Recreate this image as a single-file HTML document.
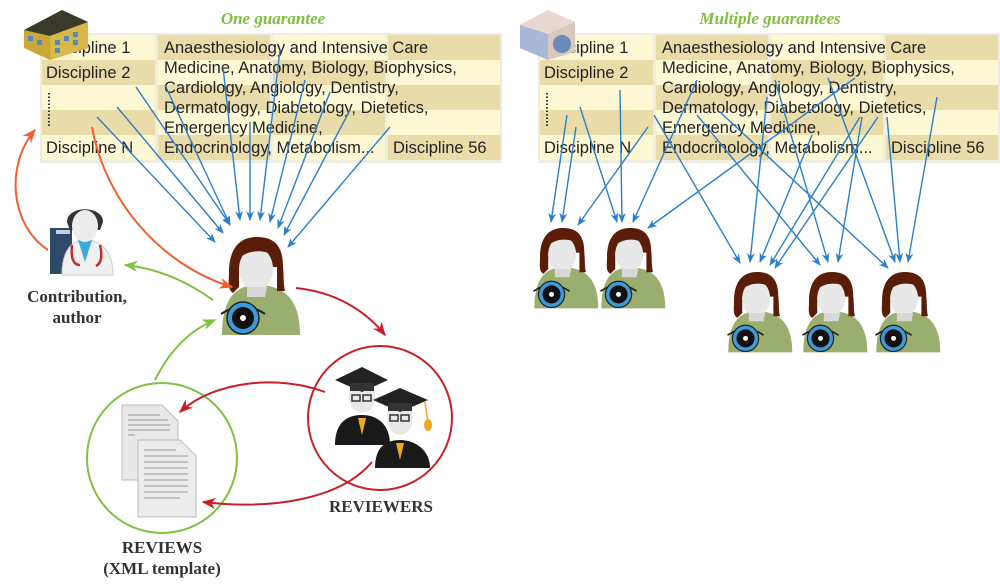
<!DOCTYPE html>
<html><head><meta charset="utf-8"><style>
body{margin:0;background:#fff;width:1000px;height:582px;overflow:hidden;font-family:"Liberation Sans",sans-serif}
</style></head><body>
<svg width="1000" height="582" viewBox="0 0 1000 582" xmlns="http://www.w3.org/2000/svg">
<defs>
<marker id="ab" viewBox="0 0 10 10" refX="9" refY="5" markerWidth="7" markerHeight="7" orient="auto"><path d="M0,1 L10,5 L0,9 L3,5z" fill="#2a7fc9"/></marker>
<marker id="ao" viewBox="0 0 10 10" refX="9" refY="5" markerWidth="7" markerHeight="7" orient="auto"><path d="M0,1 L10,5 L0,9 L3,5z" fill="#f06030"/></marker>
<marker id="ag" viewBox="0 0 10 10" refX="9" refY="5" markerWidth="7" markerHeight="7" orient="auto"><path d="M0,1 L10,5 L0,9 L3,5z" fill="#80c040"/></marker>
<marker id="ar" viewBox="0 0 10 10" refX="9" refY="5" markerWidth="7" markerHeight="7" orient="auto"><path d="M0,1 L10,5 L0,9 L3,5z" fill="#c8202a"/></marker>
<g id="person">
<path d="M-35,98 C-35,60 -20,48 0,48 C25,48 43,60 43,98 Z" fill="#9aae70"/>
<path d="M0,0 C-22,0 -28,18 -28,35 C-28,45 -30,52 -24,56 L-18,50 L-18,30 L20,30 L20,54 L28,54 C26,45 27,38 26,30 C26,12 20,0 0,0Z" fill="#5a1e08"/>
<ellipse cx="-1" cy="32" rx="17" ry="22" fill="#e8e8e8"/>
<path d="M-18,22 C-10,12 10,12 18,20 L20,12 C10,2 -10,2 -20,14Z" fill="#5a1e08"/>
<path d="M-10,50 L10,50 L8,60 L-10,60Z" fill="#d8d8d8"/>
<path d="M-36,77 Q-14,62 8,77" fill="none" stroke="#222" stroke-width="2"/>
<circle cx="-14" cy="81" r="16" fill="#3d9ad8" stroke="#222" stroke-width="1.5"/>
<circle cx="-14" cy="81" r="11" fill="#111"/>
<circle cx="-14" cy="81" r="3" fill="#fff"/>
</g>
<g id="tbl">
<rect x="40" y="33" width="462" height="130" fill="#f0ede0"/>
<rect x="42" y="35" width="113" height="25" fill="#fcf8d4"/><rect x="42" y="60" width="113" height="25" fill="#eadca8"/><rect x="42" y="85" width="113" height="25" fill="#fcf8d4"/><rect x="42" y="110" width="113" height="25" fill="#eadca8"/><rect x="42" y="135" width="113" height="25" fill="#fcf8d4"/>
<rect x="158" y="35" width="112" height="25" fill="#eadca8"/><rect x="158" y="60" width="112" height="25" fill="#fcf8d4"/><rect x="158" y="85" width="112" height="25" fill="#eadca8"/><rect x="158" y="110" width="112" height="25" fill="#fcf8d4"/><rect x="158" y="135" width="112" height="25" fill="#eadca8"/>
<rect x="273" y="35" width="112" height="25" fill="#fcf8d4"/><rect x="273" y="60" width="112" height="25" fill="#eadca8"/><rect x="273" y="85" width="112" height="25" fill="#fcf8d4"/><rect x="273" y="110" width="112" height="25" fill="#eadca8"/><rect x="273" y="135" width="112" height="25" fill="#fcf8d4"/>
<rect x="388" y="35" width="112" height="25" fill="#eadca8"/><rect x="388" y="60" width="112" height="25" fill="#fcf8d4"/><rect x="388" y="85" width="112" height="25" fill="#eadca8"/><rect x="388" y="110" width="112" height="25" fill="#fcf8d4"/><rect x="388" y="135" width="112" height="25" fill="#eadca8"/>
<line x1="49" y1="93" x2="49" y2="128" stroke="#333" stroke-width="2" stroke-dasharray="1.5,2"/>
</g>
</defs>

<use href="#tbl"/>
<use href="#tbl" transform="translate(498,0)"/>
<g font-size="16.5" fill="#222">
<text x="46" y="53">Discipline 1</text><text x="46" y="78">Discipline 2</text>
<text x="46" y="153">Discipline N</text>
<text x="164" y="53">Anaesthesiology and Intensive Care</text>
<text x="164" y="73">Medicine, Anatomy, Biology, Biophysics,</text>
<text x="164" y="93">Cardiology, Angiology, Dentistry,</text>
<text x="164" y="113">Dermatology, Diabetology, Dietetics,</text>
<text x="164" y="133">Emergency Medicine,</text>
<text x="164" y="153">Endocrinology, Metabolism...</text>
<text x="393" y="153">Discipline 56</text>
</g>
<g font-size="16.5" fill="#222" transform="translate(498,0)">
<text x="46" y="53">Discipline 1</text><text x="46" y="78">Discipline 2</text>
<text x="46" y="153">Discipline N</text>
<text x="164" y="53">Anaesthesiology and Intensive Care</text>
<text x="164" y="73">Medicine, Anatomy, Biology, Biophysics,</text>
<text x="164" y="93">Cardiology, Angiology, Dentistry,</text>
<text x="164" y="113">Dermatology, Diabetology, Dietetics,</text>
<text x="164" y="133">Emergency Medicine,</text>
<text x="164" y="153">Endocrinology, Metabolism...</text>
<text x="393" y="153">Discipline 56</text>
</g>

<!-- buildings -->
<g>
<path d="M24,30 L62,10 L88,22 L88,48 L50,60 L24,48Z" fill="#c9a838"/>
<path d="M24,30 L62,10 L88,22 L50,36Z" fill="#3a3a2a"/>
<path d="M50,36 L88,22 L88,48 L50,60Z" fill="#d8b848"/>
<g fill="#5a8ab0"><rect x="28" y="36" width="5" height="5"/><rect x="37" y="40" width="5" height="5"/><rect x="55" y="40" width="5" height="5"/><rect x="64" y="36" width="5" height="5"/><rect x="73" y="32" width="5" height="5"/><rect x="55" y="48" width="5" height="5"/><rect x="73" y="40" width="5" height="5"/></g>
</g>
<g>
<path d="M520,25 L548,10 L575,22 L575,52 L548,60 L520,48Z" fill="#d8c8c0"/>
<path d="M520,25 L548,10 L575,22 L548,34Z" fill="#e8d8d0"/>
<path d="M520,25 L548,34 L548,60 L520,48Z" fill="#a8b8d8"/>
<circle cx="562" cy="44" r="9" fill="#6a8ab8"/>
</g>

<text x="273" y="24" text-anchor="middle" font-family="Liberation Serif,serif" font-style="italic" font-weight="bold" font-size="17" fill="#80c040">One guarantee</text>
<text x="770" y="24" text-anchor="middle" font-family="Liberation Serif,serif" font-style="italic" font-weight="bold" font-size="17" fill="#80c040">Multiple guarantees</text>

<g stroke="#2a7fc9" stroke-width="1.4" marker-end="url(#ab)">
<line x1="136" y1="87" x2="230" y2="225"/>
<line x1="117" y1="107" x2="223" y2="233"/>
<line x1="97" y1="117" x2="215" y2="242"/>
<line x1="165" y1="85" x2="230" y2="225"/>
<line x1="223" y1="67" x2="240" y2="220"/>
<line x1="250" y1="122" x2="250" y2="220"/>
<line x1="280" y1="50" x2="260" y2="220"/>
<line x1="305" y1="80" x2="270" y2="222"/>
<line x1="330" y1="92" x2="278" y2="228"/>
<line x1="350" y1="110" x2="284" y2="235"/>
<line x1="390" y1="127" x2="288" y2="247"/>
</g>
<g stroke="#2a7fc9" stroke-width="1.4" marker-end="url(#ab)">
<line x1="567" y1="115" x2="551" y2="222"/>
<line x1="576" y1="127" x2="562" y2="222"/>
<line x1="580" y1="107" x2="617" y2="222"/>
<line x1="620" y1="90" x2="622" y2="222"/>
<line x1="648" y1="127" x2="578" y2="225"/>
<line x1="697" y1="80" x2="633" y2="222"/>
<line x1="855" y1="78" x2="648" y2="228"/>
<line x1="654" y1="115" x2="740" y2="263"/>
<line x1="697" y1="115" x2="820" y2="265"/>
<line x1="720" y1="112" x2="888" y2="268"/>
<line x1="767" y1="97" x2="750" y2="262"/>
<line x1="775" y1="80" x2="828" y2="262"/>
<line x1="812" y1="135" x2="760" y2="262"/>
<line x1="828" y1="78" x2="895" y2="262"/>
<line x1="860" y1="117" x2="770" y2="265"/>
<line x1="878" y1="117" x2="775" y2="268"/>
<line x1="862" y1="117" x2="838" y2="262"/>
<line x1="887" y1="117" x2="900" y2="262"/>
<line x1="937" y1="97" x2="908" y2="262"/>
</g>

<use href="#person" transform="translate(257,237)"/>
<use href="#person" transform="translate(563,228) scale(0.82)"/>
<use href="#person" transform="translate(630,228) scale(0.82)"/>
<use href="#person" transform="translate(757,272) scale(0.82)"/>
<use href="#person" transform="translate(832,272) scale(0.82)"/>
<use href="#person" transform="translate(905,272) scale(0.82)"/>

<g>
<rect x="50" y="228" width="22" height="46" fill="#2e4a6a"/>
<rect x="56" y="230" width="14" height="4" fill="#c8d0e0"/>
<path d="M62,275 C62,250 72,240 85,240 C100,240 113,250 113,275Z" fill="#f0f0f0" stroke="#ccc"/>
<path d="M78,240 L85,262 L92,240Z" fill="#3aaad8"/>
<path d="M72,245 Q70,265 80,265 M100,245 Q104,262 96,266" fill="none" stroke="#c03030" stroke-width="2.5"/>
<path d="M67,222 C67,205 103,205 103,222 L100,230 L70,230Z" fill="#333"/>
<ellipse cx="85" cy="226" rx="13" ry="16" fill="#ececec"/>
</g>

<g>
<path d="M335,445 C335,420 350,415 362,415 C378,415 390,425 390,445Z" fill="#1a1a1a"/>
<path d="M358,418 L362,435 L366,418Z" fill="#f0a820"/>
<ellipse cx="362" cy="397" rx="13" ry="16" fill="#e8e8e8"/>
<path d="M335,380 L362,367 L388,380 L362,392Z" fill="#222"/>
<rect x="350" y="383" width="24" height="8" fill="#333"/>
<rect x="352" y="395" width="8" height="6" fill="none" stroke="#333" stroke-width="1.5"/><rect x="363" y="395" width="8" height="6" fill="none" stroke="#333" stroke-width="1.5"/>
<path d="M375,468 C375,445 388,440 400,440 C415,440 430,450 430,468Z" fill="#1a1a1a"/>
<path d="M396,443 L400,460 L404,443Z" fill="#f0a820"/>
<ellipse cx="400" cy="418" rx="13" ry="17" fill="#e8e8e8"/>
<path d="M373,400 L400,388 L428,400 L400,412Z" fill="#222"/>
<rect x="388" y="403" width="24" height="8" fill="#333"/>
<line x1="425" y1="402" x2="428" y2="422" stroke="#f0a820" stroke-width="1.5"/><ellipse cx="428" cy="425" rx="4" ry="6" fill="#f0a820"/>
<rect x="390" y="415" width="8" height="6" fill="none" stroke="#333" stroke-width="1.5"/><rect x="401" y="415" width="8" height="6" fill="none" stroke="#333" stroke-width="1.5"/>
</g>

<g>
<path d="M122,405 L162,405 L178,421 L178,480 L122,480Z" fill="#e8e8e8" stroke="#bbb"/>
<path d="M138,440 L180,440 L196,456 L196,517 L138,517Z" fill="#ececec" stroke="#bbb"/>
<g stroke="#999" stroke-width="1"><line x1="128" y1="415" x2="160" y2="415"/><line x1="128" y1="420" x2="168" y2="420"/><line x1="128" y1="425" x2="170" y2="425"/><line x1="128" y1="430" x2="170" y2="430"/><line x1="128" y1="435" x2="135" y2="435"/>
<line x1="144" y1="450" x2="176" y2="450"/><line x1="144" y1="456" x2="188" y2="456"/><line x1="144" y1="462" x2="188" y2="462"/><line x1="144" y1="468" x2="188" y2="468"/><line x1="144" y1="474" x2="188" y2="474"/><line x1="144" y1="480" x2="188" y2="480"/><line x1="144" y1="486" x2="188" y2="486"/><line x1="144" y1="492" x2="188" y2="492"/><line x1="144" y1="498" x2="180" y2="498"/></g>
</g>

<circle cx="162" cy="458" r="75" fill="none" stroke="#80c040" stroke-width="2"/>
<circle cx="380" cy="418" r="72" fill="none" stroke="#c8202a" stroke-width="2"/>

<g fill="none" stroke-width="2">
<path d="M48,250 C10,225 5,165 35,130" stroke="#f06030" marker-end="url(#ao)"/>
<path d="M92,127 C105,200 160,265 232,287" stroke="#f06030" marker-end="url(#ao)"/>
<path d="M213,300 C185,280 155,268 125,265" stroke="#80c040" marker-end="url(#ag)"/>
<path d="M155,380 C170,350 190,330 215,320" stroke="#80c040" marker-end="url(#ag)"/>
<path d="M296,288 C335,292 365,310 385,335" stroke="#c8202a" marker-end="url(#ar)"/>
<path d="M325,392 C280,375 215,380 180,412" stroke="#c8202a" marker-end="url(#ar)"/>
<path d="M372,462 C340,500 270,510 203,502" stroke="#c8202a" marker-end="url(#ar)"/>
</g>

<g font-family="Liberation Serif,serif" font-weight="bold" font-size="17" fill="#333" text-anchor="middle">
<text x="77" y="302">Contribution,</text>
<text x="77" y="323">author</text>
<text x="381" y="512">REVIEWERS</text>
<text x="162" y="553">REVIEWS</text>
<text x="162" y="574">(XML template)</text>
</g>
</svg>
</body></html>
